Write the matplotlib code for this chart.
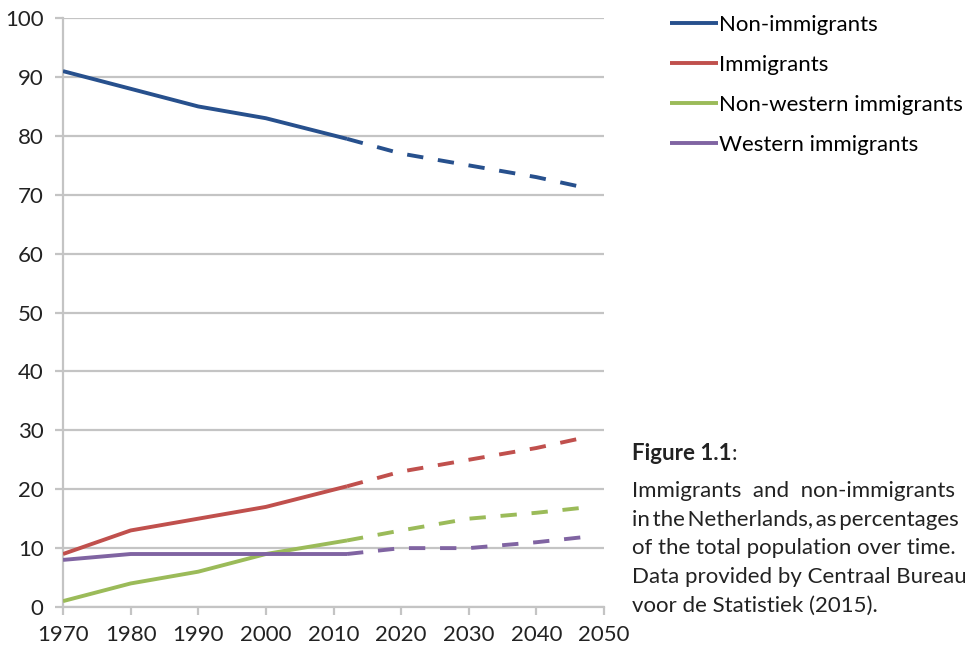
import matplotlib.pyplot as plt

plt.rcParams['font.family'] = ['Lato', 'DejaVu Sans']

# observed data (up to 2012) and projection (2012 onwards)
years_hist = [1970, 1980, 1990, 2000, 2012]
years_proj = [2012, 2020, 2030, 2040, 2048]

non_imm_hist = [91, 88, 85, 83, 79.5]
non_imm_proj = [79.5, 77, 75, 73, 71]
imm_hist = [9, 13, 15, 17, 20.5]
imm_proj = [20.5, 23, 25, 27, 29]
nonwest_hist = [1, 4, 6, 9, 11.3]
nonwest_proj = [11.3, 13, 15, 16, 17]
west_hist = [8, 9, 9, 9, 9]
west_proj = [9, 10, 10, 11, 12]

labels = ['Non-immigrants', 'Immigrants', 'Non-western immigrants', 'Western immigrants']
colors = ['#27508d', '#c0504d', '#9bbb59', '#8064a2']
hist = [non_imm_hist, imm_hist, nonwest_hist, west_hist]
proj = [non_imm_proj, imm_proj, nonwest_proj, west_proj]

fs = 16

fig = plt.figure(figsize=(9.65, 6.45), dpi=100)
ax = fig.add_axes([0.0653, 0.0589, 0.5606, 0.913])

for h, p, c, lab in zip(hist, proj, colors, labels):
    ax.plot(years_hist, h, color=c, lw=2.8, label=lab, solid_capstyle='butt', zorder=3)
    ax.plot(years_proj, p, color=c, lw=2.8, dashes=(4.2, 3.8), dash_capstyle='butt', zorder=3)

ax.set_xlim(1970, 2050)
ax.set_ylim(0, 100)
ax.set_xticks(range(1970, 2051, 10))
ax.set_yticks(range(0, 101, 10))
ax.yaxis.grid(True, color='#c4c4c4', lw=1.6)
ax.set_axisbelow(True)
for s in ['top', 'right']:
    ax.spines[s].set_visible(False)
for s in ['left', 'bottom']:
    ax.spines[s].set_color('#c4c4c4')
    ax.spines[s].set_linewidth(1.6)
ax.tick_params(axis='both', colors='#c4c4c4', labelcolor='#222222', labelsize=fs, width=1.6, length=6)
ax.tick_params(axis='y', pad=8)
ax.tick_params(axis='x', pad=7)
for t in ax.get_yticklabels():
    t.set_va('center_baseline')

fig.legend(loc='upper left', bbox_to_anchor=(0.674, 1.008), frameon=False, fontsize=fs,
           handlelength=2.15, handletextpad=0.05, labelspacing=0.9)

# caption block beside the plot
fig.text(0.655, 0.287, 'Figure 1.1', fontsize=fs, fontweight='bold', color='#222222')
fig.text(0.7585, 0.287, ':', fontsize=fs, color='#222222')
caption = ['Immigrants  and  non-immigrants',
           'in\u2009the\u2009Netherlands,\u2009as\u2009percentages',
           'of the total population over time.',
           'Data provided by Centraal Bureau',
           'voor de Statistiek (2015).']
for i, line in enumerate(caption):
    fig.text(0.655, 0.229 - i * 0.0443, line, fontsize=fs, color='#222222')

fig.savefig('out.png', dpi=100)
